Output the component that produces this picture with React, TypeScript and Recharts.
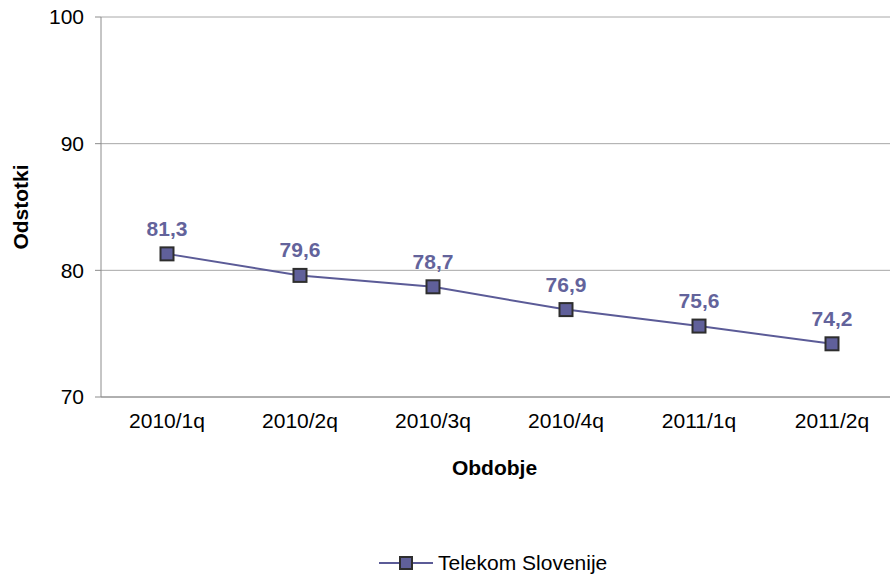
import React from 'react';
import { LineChart, Line, XAxis, YAxis, CartesianGrid, Legend, LabelList } from 'recharts';

const categories = ['2010/1q', '2010/2q', '2010/3q', '2010/4q', '2011/1q', '2011/2q'];
const values = [81.3, 79.6, 78.7, 76.9, 75.6, 74.2];
const yTicks = [70, 80, 90, 100];
const boundaryTicks = [0, 1, 2, 3, 4, 5, 6];
const seriesName = 'Telekom Slovenije';

const data = categories.map((c, i) => ({ period: c, value: values[i] }));

const LINE = '#5b5b97';
const FILL = '#60609a';
const LABEL = '#63639b';
const AXIS = '#8c8c8c';
const FONT = 'Arial, "Liberation Sans", sans-serif';

const SquareDot = (props: any) => {
  const { cx, cy } = props;
  if (cx == null || cy == null) return null;
  return <rect x={cx - 6.5} y={cy - 6.5} width={13} height={13} fill={FILL} stroke="#2e2e2e" strokeWidth={2} />;
};

const LegendContent = () => (
  <div style={{ height: 24, display: 'flex', alignItems: 'center', paddingLeft: 379, fontFamily: FONT, fontSize: 21, color: '#000', lineHeight: '24px' }}>
    <svg width={54} height={14} style={{ marginRight: 5 }}>
      <line x1={0} y1={7} x2={54} y2={7} stroke={LINE} strokeWidth={2} />
      <rect x={21} y={1} width={12} height={12} fill={FILL} stroke="#2e2e2e" strokeWidth={2} />
    </svg>
    <span>{seriesName}</span>
  </div>
);

export default function App() {
  return (
    <div style={{ position: 'absolute', left: 0, top: 0, width: 890, height: 575, overflow: 'hidden', background: '#fff' }}>
      <LineChart width={900} height={575} data={data} margin={{ top: 17, right: 2, bottom: 54, left: 0 }}>
        <CartesianGrid vertical={false} stroke="#a8a8a8" strokeWidth={1} />
        <XAxis
          xAxisId="b"
          type="number"
          domain={[0, 6]}
          ticks={boundaryTicks}
          height={0}
          axisLine={false}
          tick={false}
          tickSize={6}
          tickLine={{ stroke: AXIS }}
        />
        <XAxis
          dataKey="period"
          padding={{ left: 66, right: 66 }}
          height={100}
          stroke={AXIS}
          tickLine={false}
          tickSize={6}
          tickMargin={10}
          tick={{ fill: '#000', fontSize: 21, fontFamily: FONT }}
          interval={0}
          label={{ value: 'Obdobje', position: 'insideTop', offset: 63, dx: -5, fill: '#000', fontSize: 21, fontWeight: 'bold', fontFamily: FONT }}
        />
        <YAxis
          domain={[70, 100]}
          ticks={yTicks}
          width={101}
          stroke={AXIS}
          tickLine={{ stroke: AXIS }}
          tickSize={6}
          tickMargin={11}
          tick={{ fill: '#000', fontSize: 21, fontFamily: FONT }}
          label={{ value: 'Odstotki', angle: -90, position: 'insideLeft', offset: 21, fill: '#000', fontSize: 21, fontWeight: 'bold', fontFamily: FONT, style: { textAnchor: 'middle' } }}
        />
        <Legend verticalAlign="bottom" wrapperStyle={{ top: 551, left: 0, width: 900, bottom: 'auto' }} content={<LegendContent />} />
        <Line
          type="linear"
          dataKey="value"
          name={seriesName}
          stroke={LINE}
          strokeWidth={2}
          dot={<SquareDot />}
          activeDot={false}
          isAnimationActive={false}
        >
          <LabelList
            dataKey="value"
            position="top"
            offset={18}
            formatter={(v: any) => String(v).replace('.', ',')}
            style={{ fill: LABEL, fontSize: 21, fontWeight: 'bold', fontFamily: FONT }}
          />
        </Line>
      </LineChart>
    </div>
  );
}
